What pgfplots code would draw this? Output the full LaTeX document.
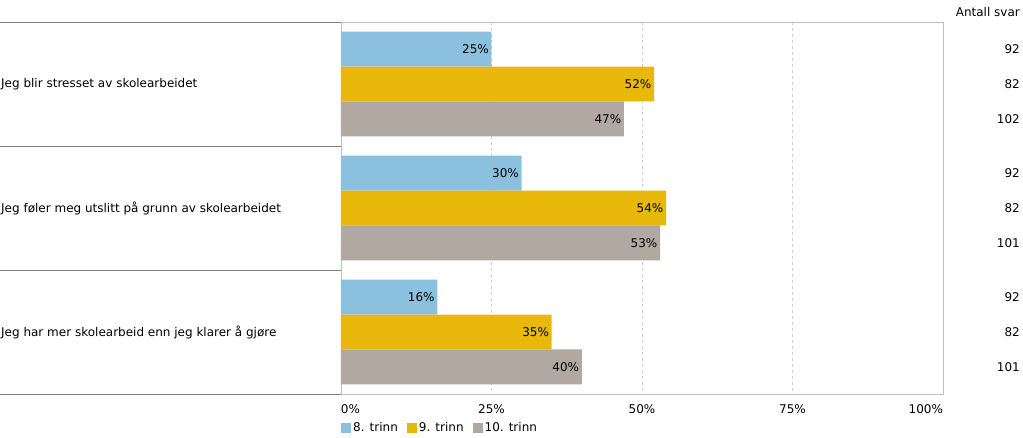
\documentclass[border=0pt]{standalone}
\usepackage{pgfplots}
\pgfplotsset{compat=1.18}
\usepackage{fontspec}
\setmainfont{DejaVu Sans}
\definecolor{c8}{HTML}{8BC1DF}
\definecolor{c9}{HTML}{E8B90B}
\definecolor{c10}{HTML}{B0A8A1}
\definecolor{framec}{HTML}{BFBFBF}
\definecolor{gridc}{HTML}{D0D0D0}
\definecolor{sepc}{HTML}{808080}
\pgfplotsset{sq legend/.style={legend image code/.code={\fill[##1] (0pt,-5pt) rectangle (10pt,5pt);}},
  pctlabels/.style={point meta=x, nodes near coords={\pgfmathprintnumber{\pgfplotspointmeta}\%},
  nodes near coords style={anchor=east, inner sep=2.5pt, text=black}}}
\begin{document}
\fontsize{12}{14}\selectfont
\begin{tikzpicture}
\begin{axis}[
  scale only axis, width=602pt, height=372pt,
  xmin=0, xmax=100, ymin=-0.5, ymax=2.5, y dir=reverse,
  axis line style={framec},
  /pgf/number format/assume math mode=true,
  xtick={0,25,50,75,100},
  xticklabels={\makebox[0pt][l]{0\%},25\%,50\%,75\%,\makebox[0pt][r]{100\%}},
  xticklabel style={yshift=-6pt},
  ytick={0,1,2},
  yticklabels={Jeg blir stresset av skolearbeidet, Jeg føler meg utslitt på grunn av skolearbeidet, Jeg har mer skolearbeid enn jeg klarer å gjøre},
  yticklabel style={anchor=west, xshift=-341pt, inner sep=1pt},
  major tick length=0pt,
  xmajorgrids, grid style={dash pattern=on 3pt off 3pt, gridc},
  clip=false,
  legend columns=3,
  legend style={draw=none, fill=none, at={(0,0)}, anchor=north west, yshift=-24pt, xshift=-3pt,
    /tikz/every even column/.append style={column sep=7pt},
    /tikz/every odd column/.append style={column sep=0pt}},
  legend cell align=left,
]
\addplot[xbar, bar width=0.282, bar shift=0, fill=c8, draw=none, sq legend, pctlabels]
  coordinates {(25,-0.282) (30,0.718) (16,1.718)};
\addplot[xbar, bar width=0.282, bar shift=0, fill=c9, draw=none, sq legend, pctlabels]
  coordinates {(52,0) (54,1) (35,2)};
\addplot[xbar, bar width=0.282, bar shift=0, fill=c10, draw=none, sq legend, pctlabels]
  coordinates {(47,0.282) (53,1.282) (40,2.282)};
\addplot[draw=none, mark=none, forget plot, point meta=explicit symbolic,
  nodes near coords={\pgfplotspointmeta},
  nodes near coords style={anchor=east, inner sep=0pt, xshift=77pt, text=black}]
  coordinates {(100,-0.282) [92] (100,0) [82] (100,0.282) [102]
               (100,0.718) [92] (100,1) [82] (100,1.282) [101]
               (100,1.718) [92] (100,2) [82] (100,2.282) [101]};
\legend{8. trinn, 9. trinn, 10. trinn}
\draw[sepc] (axis cs:0,-0.5) -- ++(-341pt,0pt);
\draw[sepc] (axis cs:0,0.5) -- ++(-341pt,0pt);
\draw[sepc] (axis cs:0,1.5) -- ++(-341pt,0pt);
\draw[sepc] (axis cs:0,2.5) -- ++(-341pt,0pt);
\node[anchor=east, inner sep=0pt] at ([xshift=77pt,yshift=10pt]axis description cs:1,1) {Antall svar};
\end{axis}
\pgfresetboundingbox
\useasboundingbox ([xshift=-341pt,yshift=-44pt]current axis.south west) rectangle ([xshift=80pt,yshift=22pt]current axis.north east);
\end{tikzpicture}
\end{document}
